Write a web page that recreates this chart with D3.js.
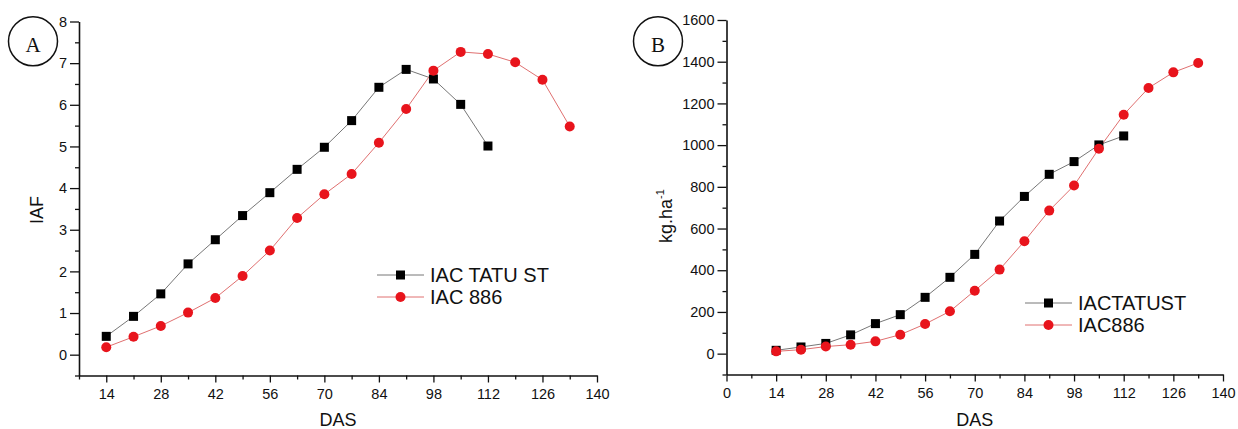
<!DOCTYPE html>
<html>
<head>
<meta charset="utf-8">
<script src="https://cdn.jsdelivr.net/npm/d3@7"></script>
<style>
  body { margin: 0; background: #fff; }
  text { font-family: "Liberation Sans", Arial, sans-serif; fill: #111; }
</style>
</head>
<body>
<div id="chart"></div>
<script>
// days after sowing
var das_tatu = [14, 21, 28, 35, 42, 49, 56, 63, 70, 77, 84, 91, 98, 105, 112];
var das_886 = [14, 21, 28, 35, 42, 49, 56, 63, 70, 77, 84, 91, 98, 105, 112, 119, 126, 133];

// panel A - IAF
var iaf_tatu = [0.44, 0.92, 1.46, 2.18, 2.76, 3.34, 3.89, 4.45, 4.98, 5.62, 6.42, 6.85, 6.62, 6.01, 5.01];
var iaf_886 = [0.18, 0.43, 0.69, 1.01, 1.36, 1.89, 2.50, 3.28, 3.85, 4.34, 5.09, 5.90, 6.82, 7.27, 7.22, 7.02, 6.60, 5.48];

// panel B - kg.ha-1
var kg_tatu = [16, 32, 49, 90, 144, 187, 270, 366, 476, 636, 754, 860, 921, 1001, 1044];
var kg_886 = [11, 19, 34, 43, 59, 91, 142, 203, 302, 403, 539, 686, 806, 983, 1146, 1274, 1349, 1394];

var x_ticks = [14, 28, 42, 56, 70, 84, 98, 112, 126, 140];
var iaf_ticks = [0, 1, 2, 3, 4, 5, 6, 7, 8];
var kg_ticks = [0, 200, 400, 600, 800, 1000, 1200, 1400, 1600];

var width = 1238;
var height = 429;

var svg = d3.select('#chart')
	.append('svg')
	.attr('width', width)
	.attr('height', height);

function drawPanel(opt) {
	var g = svg.append('g');
	var x_scale = d3.scaleLinear().domain(opt.xDomain).range(opt.xRange);
	var y_scale = d3.scaleLinear().domain(opt.yDomain).range(opt.yRange);
	var y0 = opt.yRange[0];
	var x0 = opt.xRange[0];

	// minor ticks
	g.append('g')
		.attr('transform', 'translate(0,' + y0 + ')')
		.call(d3.axisBottom(x_scale).tickValues(opt.xMinor).tickSize(4).tickFormat(''))
		.call(function (a) { a.select('.domain').remove(); });
	g.append('g')
		.attr('transform', 'translate(' + x0 + ',0)')
		.call(d3.axisLeft(y_scale).tickValues(opt.yMinor).tickSize(4).tickFormat(''))
		.call(function (a) { a.select('.domain').remove(); });

	// major axes
	var xa = g.append('g')
		.attr('transform', 'translate(0,' + y0 + ')')
		.call(d3.axisBottom(x_scale).tickValues(opt.xTicks).tickFormat(d3.format('d'))
			.tickSize(7).tickSizeOuter(0).tickPadding(6));
	var ya = g.append('g')
		.attr('transform', 'translate(' + x0 + ',0)')
		.call(d3.axisLeft(y_scale).tickValues(opt.yTicks).tickFormat(d3.format('d'))
			.tickSize(9).tickSizeOuter(0).tickPadding(3));
	[xa, ya].forEach(function (a) {
		a.selectAll('text').style('font-size', '14.5px').attr('fill', '#111')
			.style('font-family', '"Liberation Sans", Arial, sans-serif');
		a.select('.domain').attr('stroke', '#111').attr('stroke-width', 1.6);
	});
	g.selectAll('.tick line').attr('stroke', '#111').attr('stroke-width', 1.3);

	// axis titles
	g.append('text')
		.attr('x', (opt.xRange[0] + opt.xRange[1]) / 2)
		.attr('y', 426)
		.attr('text-anchor', 'middle')
		.style('font-size', '18px')
		.text('DAS');
	var yt = g.append('text')
		.attr('transform', 'translate(' + opt.yTitleX + ',' + opt.yTitleY + ') rotate(-90)')
		.attr('text-anchor', 'middle')
		.style('font-size', '18px');
	yt.append('tspan').text(opt.yTitle);
	if (opt.ySup) {
		yt.append('tspan').attr('dy', -8).style('font-size', '11px').text(opt.ySup);
	}

	// panel letter
	g.append('circle')
		.attr('cx', opt.letterX).attr('cy', 41.3)
		.attr('r', 24.5)
		.attr('fill', 'none').attr('stroke', '#111').attr('stroke-width', 1.5);
	g.append('text')
		.attr('x', opt.letterX).attr('y', 52)
		.attr('text-anchor', 'middle')
		.style('font-family', '"Liberation Serif", "Times New Roman", serif')
		.style('font-size', '21px')
		.text(opt.letter);

	var line = d3.line()
		.x(function (d) { return x_scale(d[0]); })
		.y(function (d) { return y_scale(d[1]); });

	var s_black = d3.zip(das_tatu, opt.black);
	var s_red = d3.zip(das_886, opt.red);

	g.append('path').datum(s_black)
		.attr('d', line).attr('fill', 'none')
		.attr('stroke', '#777').attr('stroke-width', 1);
	g.append('path').datum(s_red)
		.attr('d', line).attr('fill', 'none')
		.attr('stroke', '#e07070').attr('stroke-width', 1);

	g.selectAll('rect.pt').data(s_black).enter()
		.append('rect').attr('class', 'pt')
		.attr('x', function (d) { return x_scale(d[0]) - 4.5; })
		.attr('y', function (d) { return y_scale(d[1]) - 4.5; })
		.attr('width', 9).attr('height', 9)
		.attr('fill', '#000');
	g.selectAll('circle.pt').data(s_red).enter()
		.append('circle').attr('class', 'pt')
		.attr('cx', function (d) { return x_scale(d[0]); })
		.attr('cy', function (d) { return y_scale(d[1]); })
		.attr('r', 5)
		.attr('fill', '#e8141c');

	// legend
	var lx = opt.legendX, ly = opt.legendY;
	g.append('line').attr('x1', lx).attr('x2', lx + 47).attr('y1', ly).attr('y2', ly)
		.attr('stroke', '#777').attr('stroke-width', 1);
	g.append('rect').attr('x', lx + 19).attr('y', ly - 4.5).attr('width', 9).attr('height', 9).attr('fill', '#000');
	g.append('text').attr('x', lx + 53).attr('y', ly + 7).style('font-size', '20px').text(opt.names[0]);
	var ly2 = ly + 22;
	g.append('line').attr('x1', lx).attr('x2', lx + 47).attr('y1', ly2).attr('y2', ly2)
		.attr('stroke', '#e07070').attr('stroke-width', 1);
	g.append('circle').attr('cx', lx + 23.5).attr('cy', ly2).attr('r', 5).attr('fill', '#e8141c');
	g.append('text').attr('x', lx + 53).attr('y', ly2 + 7).style('font-size', '20px').text(opt.names[1]);
}

drawPanel({
	xDomain: [7, 140], xRange: [79, 597],
	yDomain: [-0.5, 8], yRange: [375.5, 21.5],
	xTicks: x_ticks, xMinor: [7, 21, 35, 49, 63, 77, 91, 105, 119, 133],
	yTicks: iaf_ticks, yMinor: [-0.5, 0.5, 1.5, 2.5, 3.5, 4.5, 5.5, 6.5, 7.5],
	black: iaf_tatu, red: iaf_886,
	yTitle: 'IAF', yTitleX: 43, yTitleY: 210,
	letter: 'A', letterX: 33,
	legendX: 377, legendY: 275,
	names: ['IAC TATU ST', 'IAC 886']
});

drawPanel({
	xDomain: [0, 140], xRange: [726.5, 1223],
	yDomain: [-100, 1600], yRange: [374.5, 20],
	xTicks: [0].concat(x_ticks), xMinor: [7, 21, 35, 49, 63, 77, 91, 105, 119, 133],
	yTicks: kg_ticks, yMinor: [-100, 100, 300, 500, 700, 900, 1100, 1300, 1500],
	black: kg_tatu, red: kg_886,
	yTitle: 'kg.ha', ySup: '-1', yTitleX: 672, yTitleY: 216,
	letter: 'B', letterX: 658,
	legendX: 1025, legendY: 303,
	names: ['IACTATUST', 'IAC886']
});
</script>
</body>
</html>
